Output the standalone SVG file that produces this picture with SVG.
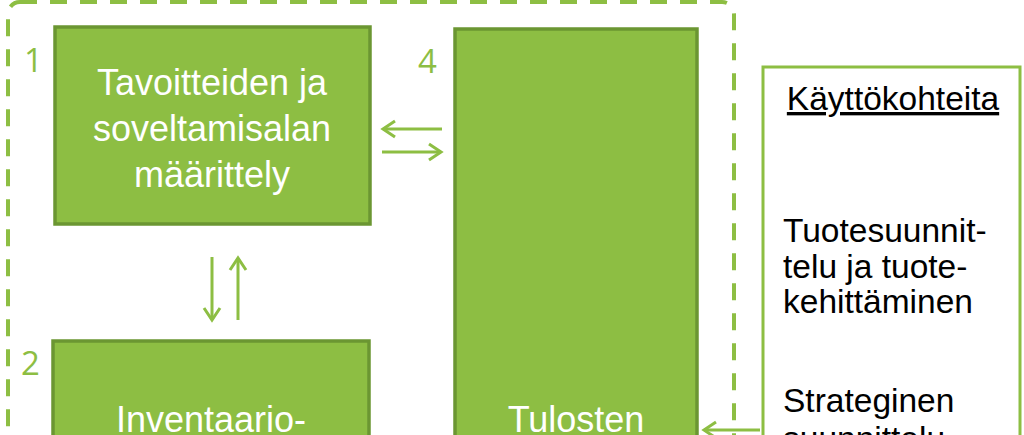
<svg xmlns="http://www.w3.org/2000/svg" width="1024" height="435" viewBox="0 0 1024 435">
<style>
.box{fill:#8DBE43;stroke:#6B9632;stroke-width:3.5}
.wt{fill:#FFFFFF;font-family:"Liberation Sans",Arial,sans-serif;font-size:36px;text-anchor:middle}
.num{fill:#8DBE43;font-family:"Open Sans","Liberation Sans",sans-serif;font-size:33px}
.bt{fill:#000000;font-family:"Liberation Sans",Arial,sans-serif;font-size:33.5px}
.arr{stroke:#8DBE43;stroke-width:3;fill:none;marker-end:url(#ah)}
</style>
<defs>
<marker id="ah" markerUnits="userSpaceOnUse" markerWidth="18" markerHeight="20" viewBox="0 0 18 20" refX="15" refY="10" orient="auto">
<path d="M3,2 L15,10 L3,18" fill="none" stroke="#8DBE43" stroke-width="3"/>
</marker>
</defs>
<rect width="1024" height="435" fill="#FFFFFF"/>
<g id="frame">
<rect x="8" y="2" width="726" height="520" rx="12" fill="none" stroke="#8DBE43" stroke-width="4" stroke-dasharray="17 13"/>
</g>
<g id="node1">
<rect class="box" x="55" y="27" width="315" height="197"/>
<text class="num" x="24" y="72">1</text>
<text class="wt" x="212" y="95">Tavoitteiden ja</text>
<text class="wt" x="212" y="141">soveltamisalan</text>
<text class="wt" x="212" y="187">määrittely</text>
</g>
<g id="node2">
<rect class="box" x="53" y="341" width="316" height="120"/>
<text class="num" x="21" y="375">2</text>
<text class="wt" x="211" y="432">Inventaario-</text>
</g>
<g id="node4">
<rect class="box" x="455" y="29" width="242" height="430"/>
<text class="num" x="418" y="73">4</text>
<text class="wt" x="576" y="432">Tulosten</text>
</g>
<g id="usecases">
<rect x="763" y="67" width="257" height="400" fill="#FFFFFF" stroke="#8DBE43" stroke-width="3"/>
<text class="bt" x="893" y="110" text-anchor="middle" text-decoration="underline">Käyttökohteita</text>
<text class="bt" x="783" y="242">Tuotesuunnit-</text>
<text class="bt" x="783" y="278">telu ja tuote-</text>
<text class="bt" x="783" y="313">kehittäminen</text>
<text class="bt" x="783" y="412">Strateginen</text>
<text class="bt" x="783" y="450">suunnittelu</text>
</g>
<g id="connectors">
<line class="arr" x1="442" y1="129" x2="383" y2="129"/>
<line class="arr" x1="382" y1="152" x2="441" y2="152"/>
<line class="arr" x1="212" y1="257" x2="212" y2="320"/>
<line class="arr" x1="238" y1="320" x2="238" y2="258"/>
<line class="arr" x1="760" y1="430" x2="704" y2="430"/>
</g>
</svg>
